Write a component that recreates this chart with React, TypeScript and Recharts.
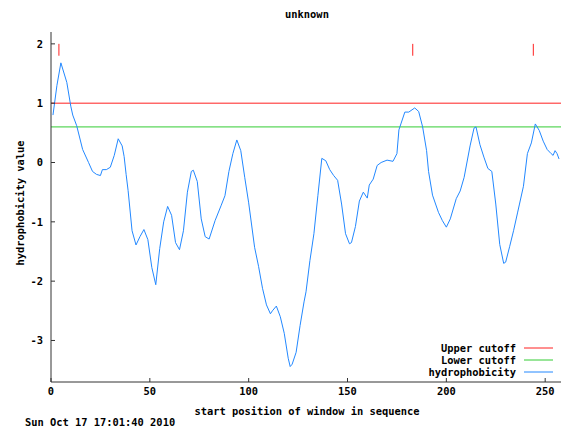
import { LineChart, Line, XAxis, YAxis, ReferenceLine } from 'recharts';

// window start positions and the averaged hydrophobicity
const positions = [
  1, 3, 5, 8, 10, 11, 13, 16, 19, 21, 23, 25, 26, 28, 30, 32, 34, 36, 37, 38, 39, 41, 43, 45, 47, 49,
  51, 53, 55, 57, 59, 61, 63, 65, 67, 69, 71, 72, 74, 76, 78, 80, 83, 86, 88, 90, 92, 94, 96, 98,
  100, 103, 105, 107, 109, 111, 112, 114, 116, 118, 120, 121, 122, 124, 126, 128, 129, 131, 133, 135,
  137, 139, 141, 143, 145, 147, 149, 151, 152, 154, 156, 158, 160, 161, 163, 165, 167, 170, 173, 175,
  176, 177, 179, 181, 184, 186, 188, 190, 191, 193, 196, 198, 200, 202, 205, 207, 209, 212, 214, 215,
  217, 219, 221, 223, 225, 227, 229, 230, 232, 234, 236, 237, 239, 241, 243, 245, 247, 249, 251, 253,
  254, 255, 256, 257,
];
const hydrophobicity = [
  0.8, 1.3, 1.68, 1.35, 0.95, 0.8, 0.62, 0.22, 0.0, -0.15, -0.2, -0.22, -0.12, -0.12, -0.08, 0.12, 0.4, 0.28, 0.1, -0.2, -0.47, -1.15, -1.39, -1.25, -1.13, -1.3,
  -1.77, -2.06, -1.45, -1.0, -0.74, -0.89, -1.35, -1.47, -1.15, -0.5, -0.15, -0.13, -0.32, -0.95, -1.25, -1.29, -0.98, -0.73, -0.56, -0.15, 0.15, 0.38, 0.2, -0.25,
  -0.68, -1.43, -1.75, -2.12, -2.4, -2.55, -2.5, -2.42, -2.6, -2.88, -3.3, -3.44, -3.4, -3.2, -2.75, -2.35, -2.18, -1.65, -1.2, -0.56,
  0.07, 0.03, -0.12, -0.22, -0.3, -0.7, -1.2, -1.37, -1.35, -1.08, -0.65, -0.5, -0.6, -0.38, -0.28, -0.05, 0.0, 0.04, 0.02, 0.15,
  0.55, 0.65, 0.85, 0.85, 0.92, 0.86, 0.6, 0.2, -0.15, -0.55, -0.84, -0.98, -1.09, -0.95, -0.61, -0.48, -0.25, 0.28, 0.58, 0.6,
  0.3, 0.09, -0.1, -0.15, -0.7, -1.38, -1.7, -1.68, -1.42, -1.15, -0.85, -0.7, -0.4, 0.15, 0.33, 0.65, 0.54, 0.36, 0.22, 0.15,
  0.12, 0.2, 0.15, 0.06,
];

const upperCutoff = 1;
const lowerCutoff = 0.6;
// segments marked at the top of the plot
const markerPositions = [4, 183, 244];
const markerRange = [1.8, 2.0];

const xTicks = [0, 50, 100, 150, 200, 250];
const yTicks = [-3, -2, -1, 0, 1, 2];

const data = positions.map((p, i) => ({ pos: p, value: hydrophobicity[i] }));

const FONT = '"DejaVu Sans Mono", monospace';
const tickStyle = { fill: '#000', fontSize: 10.4, fontWeight: 'bold', fontFamily: FONT };
const AXIS = '#333';

const legendItems = [
  { label: 'Upper cutoff', color: '#ff2020' },
  { label: 'Lower cutoff', color: '#33cc33' },
  { label: 'hydrophobicity', color: '#2288ff' },
];

// gnuplot style key, bottom right inside the plot
const LegendBox = () => (
  <div
    style={{
      position: 'absolute',
      left: 400,
      top: 342,
      fontFamily: FONT,
      fontSize: 10.4,
      fontWeight: 'bold',
      color: '#000',
    }}
  >
    {legendItems.map((item) => (
      <div key={item.label} style={{ display: 'flex', alignItems: 'center', height: 12.2 }}>
        <div style={{ width: 116, textAlign: 'right', whiteSpace: 'pre', lineHeight: '12px' }}>{item.label}</div>
        <svg width={37} height={12} style={{ display: 'block' }}>
          <line x1={8} x2={37} y1={6} y2={6} stroke={item.color} strokeWidth={1} />
        </svg>
      </div>
    ))}
  </div>
);

export default function App() {
  return (
    <div style={{ position: 'absolute', left: 0, top: 0, width: 561, height: 432, background: '#fff' }}>
      <LineChart width={561} height={432} data={data} margin={{ top: 32, right: 0, left: 11, bottom: 20 }}>
        <XAxis
          dataKey="pos"
          type="number"
          domain={[0, 258]}
          ticks={xTicks}
          allowDataOverflow
          stroke={AXIS}
          tickSize={-4}
          tickMargin={10}
          height={30}
          tick={tickStyle}
        />
        <XAxis
          xAxisId="top"
          dataKey="pos"
          type="number"
          orientation="top"
          domain={[0, 258]}
          ticks={xTicks}
          allowDataOverflow
          stroke={AXIS}
          tickSize={-4}
          height={0}
          tick={false}
        />
        <YAxis
          type="number"
          domain={[-3.7, 2.2]}
          ticks={yTicks}
          allowDataOverflow
          stroke={AXIS}
          tickSize={-4}
          tickMargin={12}
          width={40}
          tick={tickStyle}
        />
        <ReferenceLine y={upperCutoff} stroke="#ff2020" strokeWidth={1} ifOverflow="visible" />
        <ReferenceLine y={lowerCutoff} stroke="#33cc33" strokeWidth={1} ifOverflow="visible" />
        {markerPositions.map((m) => (
          <ReferenceLine
            key={`marker-${m}`}
            segment={[{ x: m, y: markerRange[0] }, { x: m, y: markerRange[1] }]}
            stroke="#ff2020"
            strokeWidth={1}
          />
        ))}
        <Line
          type="linear"
          dataKey="value"
          stroke="#2288ff"
          strokeWidth={1}
          dot={false}
          isAnimationActive={false}
        />
        <text x={307} y={14} textAnchor="middle" dominantBaseline="central" style={tickStyle}>
          unknown
        </text>
        <text
          x={20}
          y={203}
          textAnchor="middle"
          dominantBaseline="central"
          transform="rotate(-90 20 203)"
          style={tickStyle}
        >
          hydrophobicity value
        </text>
        <text x={307} y={411} textAnchor="middle" dominantBaseline="central" style={tickStyle}>
          start position of window in sequence
        </text>
        <text x={25} y={422} dominantBaseline="central" style={tickStyle}>
          Sun Oct 17 17:01:40 2010
        </text>
      </LineChart>
      <LegendBox />
    </div>
  );
}
